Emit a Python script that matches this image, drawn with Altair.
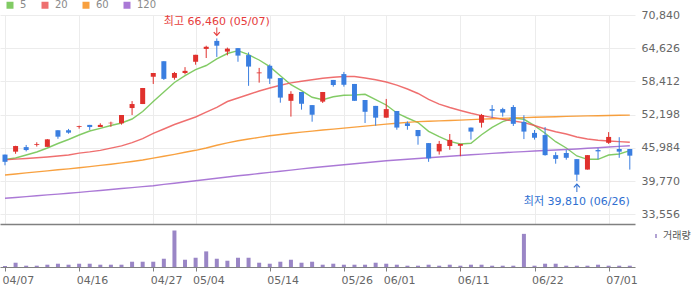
import altair as alt
import pandas as pd

# Trading days shown on the chart
dates = [
    "04/07", "04/08", "04/09", "04/10", "04/13", "04/14", "04/15", "04/16", "04/17", "04/20",
    "04/21", "04/22", "04/23", "04/24", "04/27", "04/28", "04/29", "04/30", "05/04", "05/06",
    "05/07", "05/08", "05/11", "05/12", "05/13", "05/14", "05/15", "05/18", "05/19", "05/20",
    "05/21", "05/22", "05/26", "05/27", "05/28", "05/29", "06/01", "06/02", "06/04", "06/05",
    "06/08", "06/09", "06/10", "06/11", "06/12", "06/15", "06/16", "06/17", "06/18", "06/19",
    "06/22", "06/23", "06/24", "06/25", "06/26", "06/29", "06/30", "07/01", "07/02", "07/03",
]

open_px = [44750, 45300, 46150, 46550, 46200, 49300, 49300, 49950, 50300, 49900,
           50600, 50600, 53450, 54200, 59300, 62200, 59100, 60000, 62100, 64500,
           66000, 64000, 64650, 63350, 59950, 61350, 59050, 54800, 56450, 54000,
           54650, 58700, 59800, 57950, 54950, 53850, 51650, 52900, 50600, 49350,
           46900, 45350, 46350, 46400, 49800, 50700, 53250, 53250, 53650, 50850,
           48800, 48400, 44650, 45050, 43900, 41950, 45600, 46950, 45800, 45800]
high_px = [44750, 46400, 46550, 47050, 47650, 49300, 49550, 50150, 50300, 50600,
           50900, 52150, 54750, 57200, 60000, 62200, 60200, 61100, 63400, 65100,
           66460, 64750, 64650, 63850, 60950, 61600, 59050, 56600, 56450, 54000,
           56450, 58700, 60200, 57950, 54950, 53850, 55150, 52900, 50950, 49350,
           46900, 47300, 48600, 46750, 49800, 52350, 54000, 53500, 54000, 52100,
           49350, 49900, 45200, 45600, 43900, 44650, 45950, 48950, 48000, 45800]
low_px = [42750, 44900, 45350, 46250, 46200, 47700, 48650, 49600, 49350, 49900,
          49950, 50350, 52150, 54200, 57950, 58700, 58750, 59750, 61550, 62800,
          63000, 63300, 62100, 57600, 58200, 57950, 54450, 51850, 53150, 50900,
          54400, 57450, 57450, 54800, 50650, 50150, 51650, 49400, 49400, 46600,
          43400, 44750, 45650, 44450, 47550, 49800, 51600, 51850, 50100, 47650,
          47550, 44550, 43050, 43800, 39810, 41950, 43900, 46750, 44150, 41950]
close_px = [43400, 46350, 45600, 46700, 47600, 48100, 48850, 50100, 49900, 50300,
            50700, 52150, 54200, 57200, 60000, 58900, 60000, 60400, 63400, 64900,
            65100, 64550, 63250, 61200, 60100, 58950, 55400, 56100, 54250, 52200,
            56450, 57750, 57800, 54800, 52750, 51650, 53250, 49800, 50100, 48200,
            44050, 46750, 47500, 46750, 49050, 52150, 52950, 52600, 50500, 49050,
            47900, 44650, 43950, 44150, 41000, 44650, 45350, 48050, 45300, 44550]
volume = [62000, 267000, 81000, 81000, 143000, 205000, 143000, 205000, 205000, 143000,
          143000, 143000, 329000, 329000, 329000, 515000, 2275000, 453000, 577000, 973000,
          515000, 391000, 577000, 577000, 267000, 205000, 329000, 453000, 267000, 329000,
          143000, 205000, 143000, 143000, 143000, 267000, 205000, 143000, 81000, 81000,
          143000, 81000, 143000, 81000, 143000, 143000, 81000, 81000, 81000, 2065000,
          81000, 205000, 205000, 81000, 81000, 81000, 143000, 81000, 81000, 81000]

# Moving averages (5, 20, 60, 120 days)
ma5 = [43830, 44110, 44670, 45230, 45980, 46820, 47570, 48410, 49160, 49660,
       50190, 50650, 51400, 52800, 54670, 56450, 58220, 59500, 60620, 61400,
       62620, 63640, 64170, 63420, 62430, 61180, 59500, 57810, 56690, 55460,
       55010, 55570, 55830, 55890, 56020, 55010, 54020, 52520, 51590, 50750,
       49100, 48090, 47230, 46730, 46860, 48470, 49850, 50900, 51590, 51350,
       50150, 48730, 47160, 45980, 44490, 43870, 43870, 44670, 44860, 45480]
ma20 = [43800, 43910, 44020, 44150, 44300, 44490, 44670, 45030, 45250, 45530,
        45950, 46370, 46990, 47740, 48710, 49530, 50370, 51080, 51780, 52670,
        53570, 54670, 55330, 55980, 56640, 57200, 57720, 58150, 58470, 58750,
        59030, 59210, 59350, 59350, 59070, 58730, 58320, 57720, 57010, 56170,
        55050, 54170, 53550, 52990, 52470, 52040, 51700, 51350, 51030, 50730,
        50190, 49530, 49010, 48600, 48040, 47660, 47420, 47290, 47180, 47050]
ma60 = [40940, 41120, 41330, 41520, 41700, 41910, 42090, 42280, 42510, 42730,
        42950, 43200, 43460, 43740, 44090, 44450, 44800, 45180, 45550, 45980,
        46490, 46940, 47330, 47660, 47960, 48260, 48510, 48730, 48940, 49140,
        49350, 49510, 49700, 49890, 50080, 50260, 50450, 50600, 50770, 50920,
        50970, 51050, 51120, 51200, 51290, 51370, 51440, 51510, 51590, 51660,
        51720, 51780, 51830, 51890, 51940, 51980, 52020, 52060, 52090, 52130]
ma120 = [36580, 36730, 36900, 37050, 37220, 37370, 37530, 37680, 37870, 38040,
         38230, 38410, 38580, 38770, 38940, 39180, 39400, 39630, 39870, 40100,
         40320, 40560, 40790, 40990, 41220, 41420, 41650, 41850, 42080, 42280,
         42470, 42660, 42840, 43030, 43220, 43400, 43590, 43740, 43870, 44020,
         44150, 44300, 44430, 44580, 44710, 44840, 44970, 45090, 45220, 45310,
         45420, 45520, 45610, 45700, 45800, 45930, 46040, 46170, 46280, 46410]

price_ticks = [33556, 39770, 45984, 52198, 58412, 64626, 70840]
tick_dates = ["04/07", "04/16", "04/27", "05/04", "05/14", "05/26", "06/01", "06/11", "06/22", "07/01"]

FONT = "DejaVu Sans, Noto Sans CJK KR"
UP, DOWN = "#e0312d", "#3a7ee0"
MA_NAMES = ["5", "20", "60", "120"]
MA_COLORS = ["#6cc24a", "#ec5656", "#f7901e", "#9c62cf"]
VOL_COLOR = "#9a86c6"
GRID = "#ececec"
AXIS_GRAY = "#808080"

n = len(dates)
candles = pd.DataFrame({
    "i": range(n), "date": dates, "open": open_px, "high": high_px,
    "low": low_px, "close": close_px, "volume": volume,
})
candles["vol_name"] = "거래량"

ma = pd.concat([
    pd.DataFrame({"i": range(n), "series": name, "value": vals})
    for name, vals in zip(MA_NAMES, [ma5, ma20, ma60, ma120])
])

tick_idx = [dates.index(d) for d in tick_dates]
label_expr = "[" + ",".join(f"'{d}'" for d in dates) + "][datum.value]"

hi_i = high_px.index(max(high_px))
lo_i = low_px.index(min(low_px))
hi_df = pd.DataFrame({"i": [hi_i], "v": [high_px[hi_i]],
                      "t": [f"최고 {high_px[hi_i]:,} ({dates[hi_i]})"]})
lo_df = pd.DataFrame({"i": [lo_i], "v": [low_px[lo_i]],
                      "t": [f"최저 {low_px[lo_i]:,} ({dates[lo_i]})"]})

# padding=0 keeps bar marks from insetting the continuous x range
x_scale = alt.Scale(domain=[-0.472, n - 1 + 0.49], nice=False, zero=False, padding=0)
x_top = alt.X("i:Q", scale=x_scale, title=None,
              axis=alt.Axis(values=tick_idx, grid=True, gridColor=GRID, labels=False,
                            ticks=False, domain=True, domainColor=AXIS_GRAY, domainWidth=1.5))


def y_price(field):
    return alt.Y(f"{field}:Q", title=None,
                 scale=alt.Scale(domain=[31778, 70840], nice=False, zero=False),
                 axis=alt.Axis(orient="right", values=price_ticks, format=",d", grid=True,
                               gridColor=GRID, domain=False, ticks=False, labelPadding=6,
                               labelColor="#666666", labelFont=FONT, labelFontSize=11,
                               labelOverlap=False))


candle_color = alt.condition("datum.close >= datum.open", alt.value(UP), alt.value(DOWN))

lines = alt.Chart(ma).mark_line(strokeWidth=1.4, opacity=0.85).encode(
    x=x_top, y=y_price("value"),
    color=alt.Color("series:N", sort=MA_NAMES,
                    scale=alt.Scale(domain=MA_NAMES, range=MA_COLORS),
                    legend=alt.Legend(orient="none", legendX=5, legendY=-15,
                                      direction="horizontal", title=None,
                                      symbolType="square", symbolSize=9,
                                      symbolStrokeWidth=4, labelFont=FONT,
                                      labelFontSize=10, labelColor="#8a8a8a",
                                      labelOffset=5, columnPadding=8, padding=0)),
)

wicks = alt.Chart(candles).mark_rule(strokeWidth=1).encode(
    x=x_top, y=y_price("low"), y2="high:Q", color=candle_color)
bodies = alt.Chart(candles).mark_bar(size=5).encode(
    x=x_top, y=y_price("open"), y2="close:Q", color=candle_color)

hi_text = alt.Chart(hi_df).mark_text(dy=-16, font=FONT, fontSize=11, color="#e63c3c").encode(
    x=x_top, y=y_price("v"), text="t:N")
hi_rule = alt.Chart(hi_df).mark_rule(color="#e63c3c", strokeWidth=1, yOffset=-11, y2Offset=-3).encode(
    x=x_top, y=y_price("v"), y2="v:Q")
hi_head = alt.Chart(hi_df).mark_point(shape="M-1,-1.1L0,0L1,-1.1", size=36, filled=False,
                                      color="#e63c3c", strokeWidth=1.2, yOffset=-3, opacity=1).encode(
    x=x_top, y=y_price("v"))

lo_text = alt.Chart(lo_df).mark_text(dy=21, font=FONT, fontSize=11, color="#2f6fd1").encode(
    x=x_top, y=y_price("v"), text="t:N")
lo_rule = alt.Chart(lo_df).mark_rule(color="#2f6fd1", strokeWidth=1, yOffset=3, y2Offset=11).encode(
    x=x_top, y=y_price("v"), y2="v:Q")
lo_head = alt.Chart(lo_df).mark_point(shape="M-1,1.1L0,0L1,1.1", size=36, filled=False,
                                      color="#2f6fd1", strokeWidth=1.2, yOffset=3, opacity=1).encode(
    x=x_top, y=y_price("v"))

top = alt.layer(lines, wicks, bodies, hi_text, hi_rule, hi_head, lo_text, lo_rule, lo_head).properties(
    width=635, height=209)

x_bot = alt.X("i:Q", scale=x_scale, title=None,
              axis=alt.Axis(values=tick_idx, labelExpr=label_expr, grid=False, ticks=True,
                            tickSize=4, tickColor=AXIS_GRAY, domain=True, domainColor=AXIS_GRAY,
                            domainWidth=1.2, labelAlign="left", labelOffset=-3, labelPadding=3,
                            labelColor="#666666", labelFont=FONT, labelFontSize=11,
                            labelFlush=False, labelOverlap=False))

vol = alt.Chart(candles).mark_bar(size=4).encode(
    x=x_bot,
    y=alt.Y("volume:Q", scale=alt.Scale(domain=[0, 2680000], nice=False), axis=None),
    color=alt.Color("vol_name:N", scale=alt.Scale(range=[VOL_COLOR]),
                    legend=alt.Legend(orient="none", legendX=651, legendY=7, title=None,
                                      symbolType="M-0.19,-0.5H0.19V0.5H-0.19Z", symbolSize=64,
                                      labelFont=FONT, labelFontSize=10, labelColor="#555555",
                                      labelOffset=2, padding=0)),
).properties(width=635, height=43)

chart = alt.vconcat(top, vol, spacing=0).resolve_scale(color="independent").resolve_legend(
    color="independent"
).configure_view(stroke=None).properties(
    padding={"left": 0, "top": 0, "right": 0, "bottom": 2}, background="white"
)

chart.save("out.html", embed_options={"renderer": "svg", "actions": False})
